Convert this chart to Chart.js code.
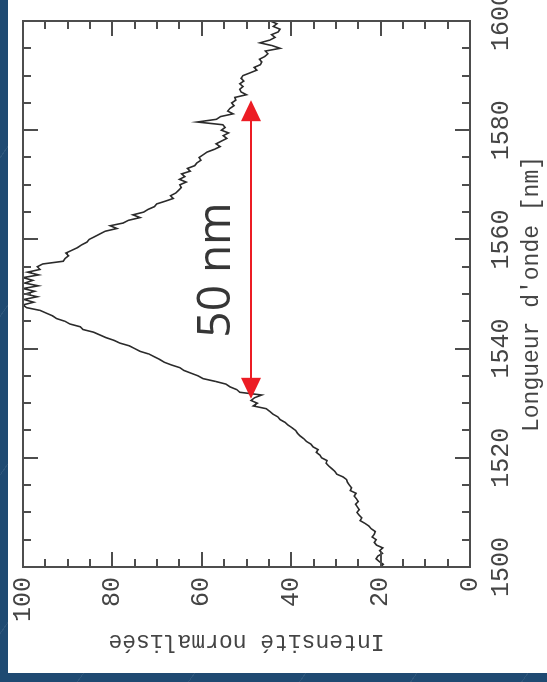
<!DOCTYPE html>
<html>
<head>
<meta charset="utf-8">
<script src="https://cdn.jsdelivr.net/npm/chart.js@4.4.0/dist/chart.umd.min.js"></script>
<style>
  html, body { margin: 0; padding: 0; }
  body {
    width: 547px; height: 682px; overflow: hidden; position: relative;
    background-color: #1f4a72;
    background-image: repeating-linear-gradient(125deg, transparent 0 90px, rgba(255,255,255,0.07) 90px 91px);
  }
  /* the chart is drawn upright and the whole sheet is turned a quarter left */
  #sheet {
    position: absolute; left: 0; top: 0; width: 682px; height: 547px;
    transform-origin: 0 0; transform: translate(0, 682px) rotate(-90deg);
  }
  #paper { position: absolute; left: 9px; top: 8px; right: 0; bottom: 0; background: #fff; }
  #spectrum { position: absolute; left: 0; top: 0; }
</style>
</head>
<body>
<div id="sheet">
  <div id="paper"></div>
  <canvas id="spectrum" width="682" height="547"></canvas>
</div>
<script>
// ── Data (0.5 nm sampling) ────────────────────────────
const wavelengths = [
  1500.0, 1500.5, 1501.0, 1501.5, 1502.0, 1502.5, 1503.0, 1503.5, 1504.0, 1504.5,
  1505.0, 1505.5, 1506.0, 1506.5, 1507.0, 1507.5, 1508.0, 1508.5, 1509.0, 1509.5,
  1510.0, 1510.5, 1511.0, 1511.5, 1512.0, 1512.5, 1513.0, 1513.5, 1514.0, 1514.5,
  1515.0, 1515.5, 1516.0, 1516.5, 1517.0, 1517.5, 1518.0, 1518.5, 1519.0, 1519.5,
  1520.0, 1520.5, 1521.0, 1521.5, 1522.0, 1522.5, 1523.0, 1523.5, 1524.0, 1524.5,
  1525.0, 1525.5, 1526.0, 1526.5, 1527.0, 1527.5, 1528.0, 1528.5, 1529.0, 1529.5,
  1530.0, 1530.5, 1531.0, 1531.5, 1532.0, 1532.5, 1533.0, 1533.5, 1534.0, 1534.5,
  1535.0, 1535.5, 1536.0, 1536.5, 1537.0, 1537.5, 1538.0, 1538.5, 1539.0, 1539.5,
  1540.0, 1540.5, 1541.0, 1541.5, 1542.0, 1542.5, 1543.0, 1543.5, 1544.0, 1544.5,
  1545.0, 1545.5, 1546.0, 1546.5, 1547.0, 1547.5, 1548.0, 1548.5, 1549.0, 1549.5,
  1550.0, 1550.5, 1551.0, 1551.5, 1552.0, 1552.5, 1553.0, 1553.5, 1554.0, 1554.5,
  1555.0, 1555.5, 1556.0, 1556.5, 1557.0, 1557.5, 1558.0, 1558.5, 1559.0, 1559.5,
  1560.0, 1560.5, 1561.0, 1561.5, 1562.0, 1562.5, 1563.0, 1563.5, 1564.0, 1564.5,
  1565.0, 1565.5, 1566.0, 1566.5, 1567.0, 1567.5, 1568.0, 1568.5, 1569.0, 1569.5,
  1570.0, 1570.5, 1571.0, 1571.5, 1572.0, 1572.5, 1573.0, 1573.5, 1574.0, 1574.5,
  1575.0, 1575.5, 1576.0, 1576.5, 1577.0, 1577.5, 1578.0, 1578.5, 1579.0, 1579.5,
  1580.0, 1580.5, 1581.0, 1581.5, 1582.0, 1582.5, 1583.0, 1583.5, 1584.0, 1584.5,
  1585.0, 1585.5, 1586.0, 1586.5, 1587.0, 1587.5, 1588.0, 1588.5, 1589.0, 1589.5,
  1590.0, 1590.5, 1591.0, 1591.5, 1592.0, 1592.5, 1593.0, 1593.5, 1594.0, 1594.5,
  1595.0, 1595.5, 1596.0, 1596.5, 1597.0, 1597.5, 1598.0, 1598.5, 1599.0, 1599.5,
  1600.0
];
const intensity = [
  20.0, 19.4, 20.3, 21.0, 20.6, 19.6, 20.2, 19.5, 20.9, 21.4,
  21.0, 21.9, 21.4, 21.2, 22.1, 22.6, 23.5, 24.6, 24.2, 24.8,
  25.3, 24.8, 25.2, 25.6, 25.0, 25.4, 25.9, 25.5, 26.8, 26.5,
  27.0, 27.4, 27.6, 28.4, 29.8, 30.2, 30.9, 31.6, 32.2, 32.0,
  33.2, 33.6, 34.4, 34.0, 35.1, 35.6, 36.6, 37.2, 38.0, 38.6,
  39.0, 39.8, 40.7, 41.4, 42.5, 43.0, 44.1, 44.8, 45.6, 48.5,
  47.6, 49.0, 48.2, 46.6, 51.5, 52.2, 53.7, 54.6, 57.0, 59.7,
  60.8, 62.4, 64.0, 64.9, 66.8, 68.4, 69.4, 70.6, 71.8, 73.8,
  75.0, 76.2, 78.3, 79.6, 81.4, 82.8, 84.2, 86.6, 87.2, 89.5,
  90.6, 92.5, 93.4, 94.8, 96.2, 99.2, 100.0, 97.6, 99.8, 96.8,
  99.5, 97.4, 100.0, 96.6, 99.6, 97.8, 100.0, 96.5, 99.0, 96.2,
  96.8, 95.6, 91.0, 90.6, 89.8, 90.4, 89.1, 87.8, 86.9, 85.7,
  85.2, 84.0, 82.8, 81.6, 79.0, 80.5, 77.6, 76.4, 73.8, 75.4,
  73.0, 72.0, 70.6, 70.1, 68.2, 66.4, 67.0, 65.8, 65.2, 64.6,
  64.9, 63.5, 65.0, 63.8, 64.5, 62.6, 63.2, 61.6, 61.1, 60.2,
  60.6, 59.7, 58.8, 57.2, 55.9, 56.8, 55.6, 54.4, 55.2, 54.0,
  55.6, 54.8, 55.3, 61.0, 56.7, 55.8, 53.0, 54.2, 53.7, 52.8,
  53.3, 52.4, 52.6, 50.0, 51.2, 51.5, 50.8, 51.5, 50.6, 51.2,
  50.8, 49.2, 47.7, 48.3, 46.9, 46.6, 47.1, 45.9, 45.2, 45.8,
  42.5, 44.3, 47.0, 44.8, 43.6, 44.4, 42.9, 42.5, 44.0, 43.2,
  44.7
];
const xTicks = [1500, 1520, 1540, 1560, 1580, 1600];
const yTicks = [0, 20, 40, 60, 80, 100];

// width marker: from / to wavelength, at half maximum
const fwhmFrom = 1530.8;
const fwhmTo = 1585.5;
const fwhmLevel = 49;
const fwhmLabel = '50 nm';
const fwhmLabelAt = [1554.4, 53.7];

const INK = '#444';

// ── Frame with inward ticks on all four sides ─────────
const frameTicks = {
  id: 'frameTicks',
  afterDraw(chart) {
    const { ctx, chartArea: a, scales: { x, y } } = chart;
    ctx.save();
    ctx.strokeStyle = '#4d4d4d';
    ctx.lineWidth = 2;
    ctx.strokeRect(a.left, a.top, a.right - a.left, a.bottom - a.top);
    ctx.beginPath();
    for (let v = 1505; v < 1600; v += 5) {
      const px = Math.round(x.getPixelForValue(v));
      const len = v % 20 === 0 ? 15 : 8;
      ctx.moveTo(px, a.bottom); ctx.lineTo(px, a.bottom - len);
      ctx.moveTo(px, a.top); ctx.lineTo(px, a.top + len);
    }
    for (let v = 5; v < 100; v += 5) {
      const py = Math.round(y.getPixelForValue(v));
      const len = v % 20 === 0 ? 15 : 8;
      ctx.moveTo(a.left, py); ctx.lineTo(a.left + len, py);
      ctx.moveTo(a.right, py); ctx.lineTo(a.right - len, py);
    }
    ctx.stroke();
    ctx.restore();
  }
};

// ── Red double arrow and its label ────────────────────
const widthMarker = {
  id: 'widthMarker',
  afterDatasetsDraw(chart) {
    const { ctx, scales: { x, y } } = chart;
    const x1 = x.getPixelForValue(fwhmFrom);
    const x2 = x.getPixelForValue(fwhmTo);
    const py = y.getPixelForValue(fwhmLevel);
    const head = 21, half = 10;
    ctx.save();
    ctx.strokeStyle = '#ec1c24';
    ctx.fillStyle = '#ec1c24';
    ctx.lineWidth = 2;
    ctx.beginPath();
    ctx.moveTo(x1 + head - 2, py); ctx.lineTo(x2 - head + 2, py);
    ctx.stroke();
    ctx.beginPath();
    ctx.moveTo(x1, py); ctx.lineTo(x1 + head, py - half); ctx.lineTo(x1 + head, py + half);
    ctx.closePath(); ctx.fill();
    ctx.beginPath();
    ctx.moveTo(x2, py); ctx.lineTo(x2 - head, py - half); ctx.lineTo(x2 - head, py + half);
    ctx.closePath(); ctx.fill();

    ctx.fillStyle = '#363636';
    ctx.font = '46px "Open Sans"';
    ctx.textAlign = 'center';
    ctx.textBaseline = 'alphabetic';
    ctx.fillText(fwhmLabel, x.getPixelForValue(fwhmLabelAt[0]), y.getPixelForValue(fwhmLabelAt[1]));
    ctx.restore();
  }
};

Chart.defaults.font.family = '"Liberation Mono", monospace';
Chart.defaults.color = INK;

new Chart(document.getElementById('spectrum'), {
  type: 'line',
  data: {
    datasets: [{
      data: wavelengths.map((w, i) => ({ x: w, y: intensity[i] })),
      borderColor: '#2b2b2b',
      borderWidth: 1.6,
      pointRadius: 0,
      tension: 0,
      fill: false
    }]
  },
  options: {
    responsive: false,
    animation: false,
    devicePixelRatio: 1,
    layout: { padding: { left: 0, top: 23, right: 21, bottom: 0 } },
    plugins: { legend: { display: false }, tooltip: { enabled: false } },
    scales: {
      x: {
        type: 'linear',
        min: 1500, max: 1600,
        grid: { display: false, drawTicks: false },
        border: { display: false },
        afterBuildTicks: s => { s.ticks = xTicks.map(v => ({ value: v })); },
        afterFit: s => { s.height = 77; s.paddingLeft = 0; s.paddingRight = 0; },
        ticks: { font: { size: 25 }, padding: 16, maxRotation: 0, autoSkip: false, callback: v => String(v) },
        title: {
          display: true,
          text: "Longueur d'onde [nm]",
          font: { size: 23 },
          padding: { top: 0, bottom: 1 }
        }
      },
      y: {
        min: 0, max: 100,
        grid: { display: false, drawTicks: false },
        border: { display: false },
        afterBuildTicks: s => { s.ticks = yTicks.map(v => ({ value: v })); },
        afterFit: s => { s.width = 115; s.paddingTop = 0; s.paddingBottom = 0; },
        ticks: { font: { size: 25 }, padding: 10, autoSkip: false, callback: v => String(v) },
        title: {
          display: true,
          text: 'Intensité normalisée',
          font: { size: 23 },
          padding: { top: 27, bottom: 0 }
        }
      }
    }
  },
  plugins: [frameTicks, widthMarker]
});
</script>
</body>
</html>
